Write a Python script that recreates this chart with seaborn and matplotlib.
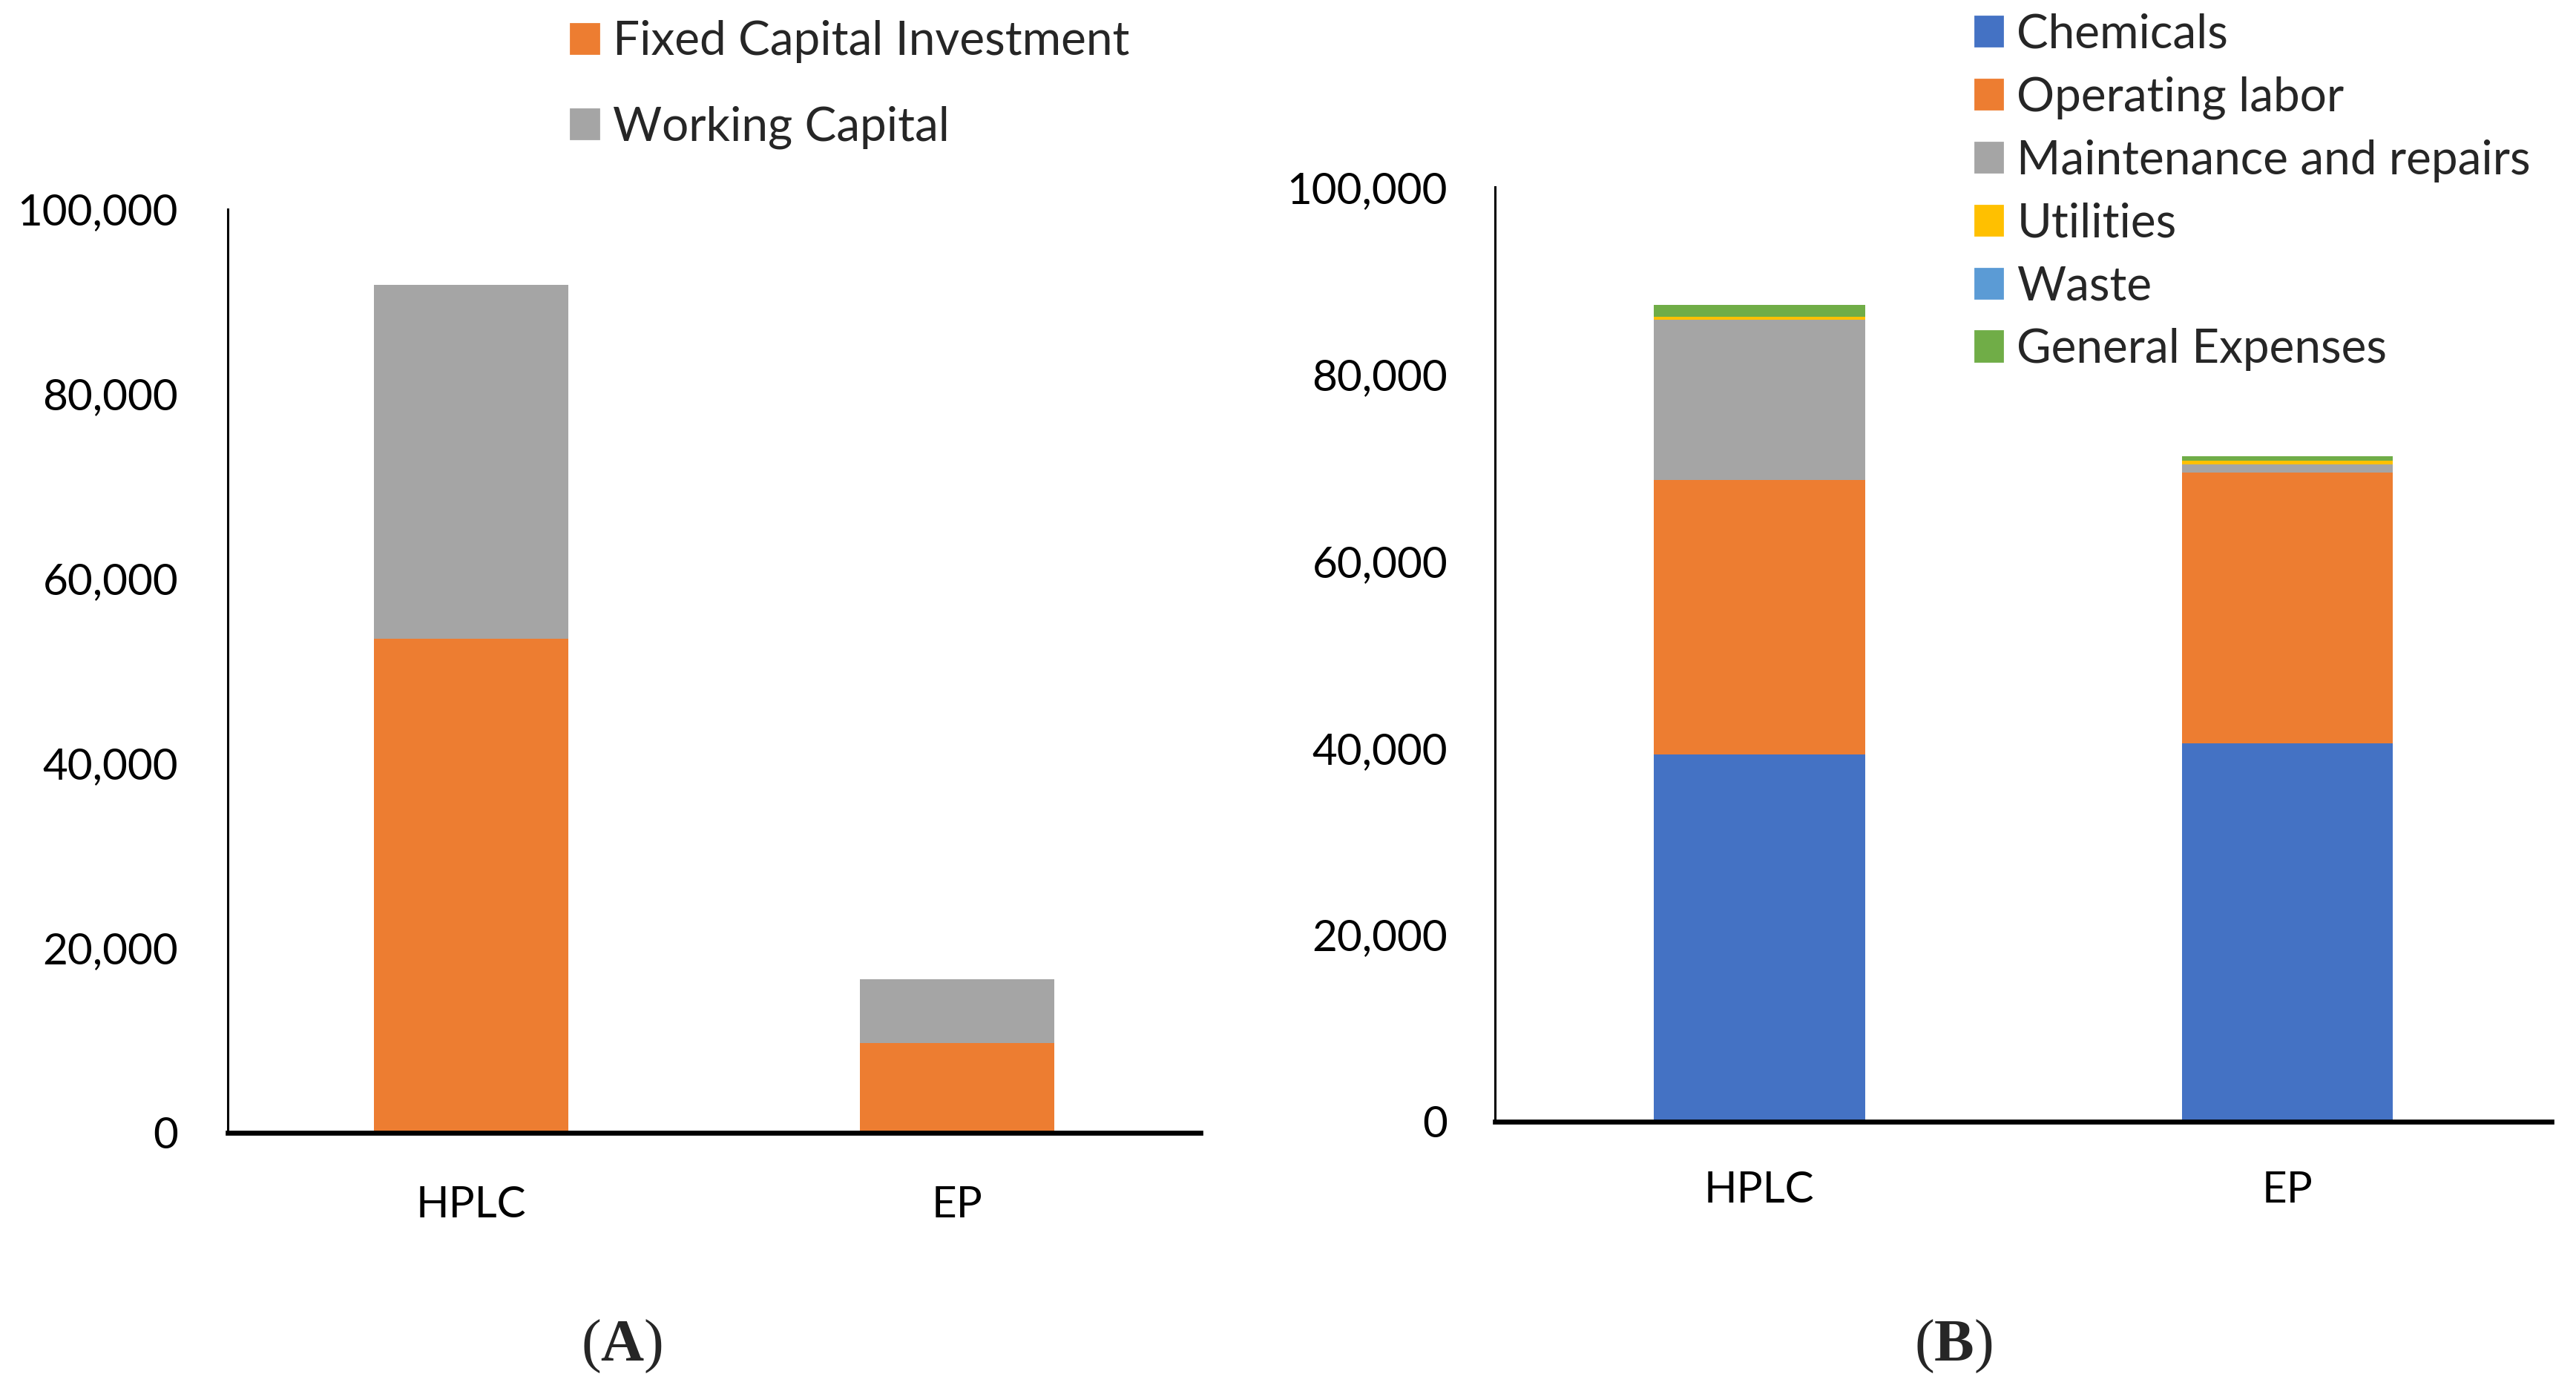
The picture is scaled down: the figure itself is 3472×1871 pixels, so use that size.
import numpy as np
import pandas as pd
import seaborn as sns
import matplotlib.pyplot as plt
from matplotlib.patches import Patch
import matplotlib.ticker as mtick

# === data ===
processes = ['HPLC', 'EP']

# (A) capital investment
fixed_capital = [53450, 9700]
working_capital = [38350, 6900]

# (B) operating cost
chemicals = [39300, 40500]
operating_labor = [29400, 29000]
maintenance = [17100, 800]
utilities = [300, 400]
waste = [50, 30]
general_expenses = [1220, 450]

# === style ===
sns.set_theme(style="white")
plt.rcParams['font.family'] = ['Lato', 'DejaVu Sans']
plt.rcParams['mathtext.fontset'] = 'custom'
plt.rcParams['mathtext.rm'] = 'Liberation Serif'
plt.rcParams['mathtext.bf'] = 'Liberation Serif:bold'

C_BLUE = '#4472C4'
C_ORANGE = '#ED7D31'
C_GRAY = '#A5A5A5'
C_YELLOW = '#FFC000'
C_LBLUE = '#5B9BD5'
C_GREEN = '#70AD47'

FS = 21       # tick labels
FS_LEG = 23   # legend text
BAR_W = 0.4

fig = plt.figure(figsize=(17.36, 9.355), dpi=200)
axA = fig.add_axes([0.0884, 0.1839, 0.3775, 0.6654])
axB = fig.add_axes([0.5804, 0.1919, 0.4101, 0.6732])


def stacked(ax, layers, colors):
    # draw cumulative totals, largest first, so each layer shows its part
    cum = np.cumsum(np.array(layers, dtype=float), axis=0)
    for i in range(len(layers) - 1, -1, -1):
        df = pd.DataFrame({'process': processes, 'value': cum[i]})
        sns.barplot(data=df, x='process', y='value', ax=ax, color=colors[i],
                    width=BAR_W, saturation=1, linewidth=0, edgecolor='none')


stacked(axA, [fixed_capital, working_capital], [C_ORANGE, C_GRAY])
stacked(axB, [chemicals, operating_labor, maintenance, utilities, waste, general_expenses],
        [C_BLUE, C_ORANGE, C_GRAY, C_YELLOW, C_LBLUE, C_GREEN])

for ax, pady, padx in [(axA, 24, 25.6), (axB, 23, 23.6)]:
    ax.set_xlim(-0.5, 1.5)
    ax.set_ylim(0, 100000)
    ax.yaxis.set_major_locator(mtick.MultipleLocator(20000))
    ax.yaxis.set_major_formatter(mtick.FuncFormatter(lambda v, p: f'{v:,.0f}'))
    ax.set_xlabel('')
    ax.set_ylabel('')
    for s in ['top', 'right']:
        ax.spines[s].set_visible(False)
    ax.spines['left'].set_color('black')
    ax.spines['left'].set_linewidth(1.1)
    ax.spines['bottom'].set_color('black')
    ax.spines['bottom'].set_linewidth(2.4)
    ax.tick_params(axis='y', length=0, pad=pady, labelsize=FS, colors='black')
    ax.tick_params(axis='x', length=0, pad=padx, labelsize=FS, colors='black')
    ax.grid(False)

# legends
hA = [Patch(color=C_ORANGE), Patch(color=C_GRAY)]
fig.legend(hA, ['Fixed Capital Investment', 'Working Capital'],
           loc='upper left', bbox_to_anchor=(0.2215, 0.9855), frameon=False,
           fontsize=FS_LEG, handlelength=0.59, handleheight=0.59,
           handletextpad=0.3, labelspacing=0.9, borderpad=0, borderaxespad=0)

hB = [Patch(color=c) for c in [C_BLUE, C_ORANGE, C_GRAY, C_YELLOW, C_LBLUE, C_GREEN]]
fig.legend(hB, ['Chemicals', 'Operating labor', 'Maintenance and repairs',
                'Utilities', 'Waste', 'General Expenses'],
           loc='upper left', bbox_to_anchor=(0.7666, 0.9907), frameon=False,
           fontsize=FS_LEG, handlelength=0.59, handleheight=0.59,
           handletextpad=0.3, labelspacing=0.42, borderpad=0, borderaxespad=0)

# panel letters
fig.text(838 / 3472, 1 - 1815 / 1871, r'($\mathbf{A}$)', ha='center', va='center',
         fontsize=29, family='Liberation Serif')
fig.text(2633 / 3472, 1 - 1815 / 1871, r'($\mathbf{B}$)', ha='center', va='center',
         fontsize=29, family='Liberation Serif')

fig.savefig('out.png', dpi=200, facecolor='white')
